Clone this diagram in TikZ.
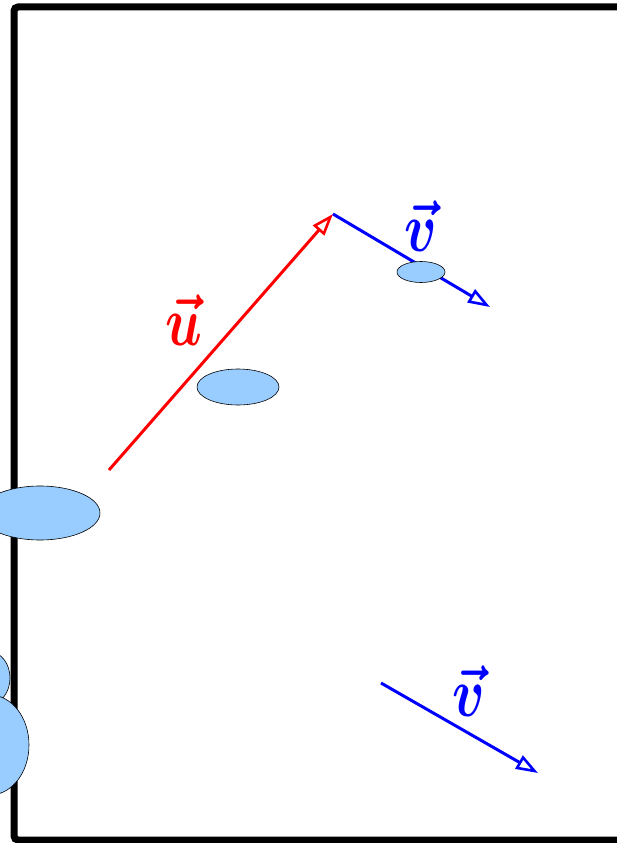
\documentclass[tikz,border=0pt]{standalone}
\usetikzlibrary{arrows.meta,shapes.geometric}
\definecolor{blob}{HTML}{99CCFF}
\definecolor{vblue}{HTML}{0000FF}
\definecolor{ured}{HTML}{FF0000}
\tikzset{
  vec/.style={line width=3pt,-{Triangle[open,length=22pt,width=15pt,line width=2.6pt]}},
  blobby/.style={draw=black,line width=0.6pt,fill=blob,ellipse,inner sep=0pt},
  lab/.style={inner sep=0pt}
}
\newcommand{\biglab}[1]{\scalebox{5.4}[7]{\boldmath$\vec{#1}$}}
\begin{document}
\begin{tikzpicture}[x=1pt,y=-1pt]
\useasboundingbox (0,0) rectangle (617,843);
\draw[line width=7pt,rounded corners=4pt] (640,7) -- (14,7) -- (14,840) -- (640,840);
\coordinate (ustart) at (109,470);
\coordinate (tip) at (333,214);
\coordinate (vend) at (490,307);
\coordinate (wstart) at (381,683);
\coordinate (wend) at (538,773);
\draw[vec,draw=ured] (ustart) -- (tip);
\draw[vec,draw=vblue] (tip) -- (vend);
\draw[vec,draw=vblue] (wstart) -- (wend);
\node[blobby,minimum width=82pt,minimum height=36pt] (e1) at (238,387) {};
\node[blobby,minimum width=48pt,minimum height=21pt] (e2) at (421,272) {};
\node[blobby,minimum width=120pt,minimum height=54pt] (e3) at (40,513) {};
\node[blobby,minimum width=40pt,minimum height=52pt] (e4) at (-10,678) {};
\node[blobby,minimum width=78pt,minimum height=100pt] (e5) at (-10,745) {};
\node[lab,text=ured] (lu) at (184,320) {\biglab{u}};
\node[lab,text=vblue] (lv1) at (421,226) {\biglab{v}};
\node[lab,text=vblue] (lv2) at (469,691) {\biglab{v}};
\end{tikzpicture}
\end{document}
